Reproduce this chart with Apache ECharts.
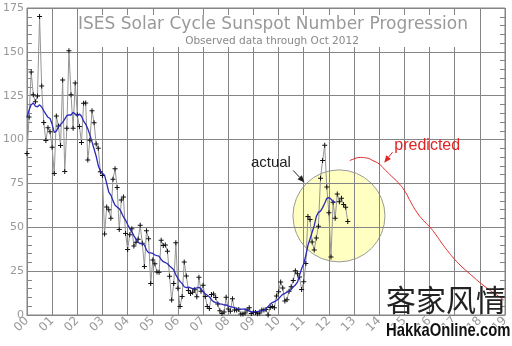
<!DOCTYPE html>
<html><head><meta charset="utf-8">
<script src="https://cdn.jsdelivr.net/npm/echarts@6/dist/echarts.min.js"></script>
<style>html,body{margin:0;padding:0;background:#fff}#c{width:512px;height:346px}</style>
</head><body><div id="c"></div>
<script>
const startYear = 2000;
// Monthly observed sunspot numbers, Jan 2000 .. Oct 2012
const observed = [
  92.0,112.9,138.5,125.5,121.6,124.9,170.1,130.5,109.7,99.4,106.8,104.4,
  95.6,80.6,113.5,107.7,96.6,134.0,81.8,106.4,150.7,125.5,106.5,132.2,
  114.1,107.4,98.4,120.7,120.8,88.3,99.6,116.4,109.6,97.5,95.0,81.6,
  79.5,46.2,61.5,60.0,55.2,77.4,83.3,72.7,48.7,65.5,67.3,46.5,
  37.3,45.8,49.1,39.3,41.5,43.2,51.1,40.9,27.7,48.0,43.5,17.9,
  31.3,29.2,24.5,24.4,42.6,39.6,39.9,36.4,22.1,8.5,18.0,41.2,
  15.3,4.9,10.6,30.2,22.3,13.9,12.2,12.9,14.4,10.4,21.5,13.6,
  16.9,10.6,4.8,3.7,11.7,12.0,10.0,6.2,2.4,0.9,1.7,10.1,
  3.4,2.1,9.3,2.9,2.9,3.1,0.5,0.5,1.1,2.9,4.1,0.8,
  1.5,1.4,0.7,1.2,2.9,2.9,3.2,0.0,4.3,4.8,4.1,10.8,
  13.2,18.8,15.4,8.0,8.7,13.6,16.1,19.6,25.2,23.5,21.6,14.5,
  19.0,29.4,56.2,54.4,41.6,37.0,43.9,50.6,78.0,88.0,96.7,73.0,
  58.3,33.1,64.2,55.2,69.0,64.5,66.5,63.0,61.4,53.3
];
// 13-month smoothed sunspot number, Jan 2000 .. Apr 2012
const smoothed = [
  112.9,116.8,119.9,120.8,119.0,118.7,119.8,118.6,116.4,114.5,112.7,112.0,
  108.7,104.0,104.8,107.5,108.6,109.8,111.7,113.6,114.1,114.0,115.5,114.6,
  113.5,114.6,113.3,110.5,108.8,106.2,102.7,98.7,94.6,90.5,85.2,82.0,
  80.8,79.7,75.0,70.1,68.4,65.2,62.5,61.5,60.6,58.6,55.9,54.1,
  51.6,49.3,47.4,45.1,43.3,41.5,40.7,40.6,39.9,37.0,35.6,35.4,
  35.1,34.2,33.8,33.5,31.6,30.4,29.9,29.2,27.9,26.9,25.7,22.9,
  20.8,19.1,17.9,16.1,15.6,15.9,15.5,15.0,15.1,15.4,15.8,14.9,
  13.2,12.1,11.3,10.4,8.7,7.6,7.1,6.9,6.4,6.2,5.7,5.8,
  5.1,4.8,4.5,4.2,3.7,3.3,3.4,3.4,3.5,2.9,2.2,1.7,
  1.8,1.9,2.0,2.2,2.3,2.7,3.6,4.8,6.2,7.1,7.6,8.3,
  9.3,10.6,11.8,12.3,13.0,13.6,14.5,16.0,17.1,18.7,22.6,26.5,
  29.2,33.9,39.6,43.3,47.2,50.9,56.1,58.5,59.2,61.2,63.7,66.5,
  66.9,66.1,64.6,64.3
];
// Predicted curve
const predictedYears = [2012.83,2013.0,2013.25,2013.5,2013.75,2014.0,2014.25,2014.5,2014.75,2015.0,2015.25,2015.5,2015.75,2016.0,2016.25,2016.5,2016.75,2017.0,2017.25,2017.5,2017.75,2018.0,2018.25,2018.5,2018.75,2018.95];
const predictedValues = [88,89,89.8,89.5,88,86,82.5,79,75.5,71,64.5,58.5,54,50.3,45.8,40.7,36,31.7,28,24.7,21.6,18.5,15.7,13.1,10.6,8.6];
const yearTicks = {min: 2000, max: 2019};
const valueTicks = {min: 0, max: 175, step: 25};

const obsData = observed.map((v, i) => [startYear + i / 12, v]);
const smData = smoothed.map((v, i) => [startYear + i / 12, v]);
const prData = predictedYears.map((x, i) => [x, predictedValues[i]]);

const gridColor = '#858585';
const chart = echarts.init(document.getElementById('c'), null, {renderer: 'canvas'});
const plus = 'path://M2,0H3V2H5V3H3V5H2V3H0V2H2Z';
chart.setOption({
  animation: false,
  grid: {left: 24, right: 7, top: 8, bottom: 31, show: true, borderColor: gridColor, borderWidth: 1, backgroundColor: 'rgba(0,0,0,0)'},
  xAxis: {
    type: 'value', min: yearTicks.min, max: yearTicks.max, interval: 1,
    axisLine: {show: true, lineStyle: {color: gridColor}},
    axisTick: {show: false},
    splitLine: {show: true, lineStyle: {color: gridColor, width: 1}},
    axisLabel: {rotate: 45, margin: 4, color: '#999', fontSize: 12, fontFamily: 'DejaVu Sans',
      showMinLabel: true, showMaxLabel: true,
      formatter: v => String(Math.round(v) % 100).padStart(2, '0')}
  },
  yAxis: [{
    type: 'value', min: valueTicks.min, max: valueTicks.max, interval: valueTicks.step, position: 'left',
    axisLine: {show: false},
    axisTick: {show: true, inside: true, length: 6, lineStyle: {color: gridColor}},
    minorTick: {show: true, splitNumber: 5, length: 5, lineStyle: {color: gridColor}},
    splitLine: {show: true, lineStyle: {color: gridColor, width: 1}},
    axisLabel: {color: '#999', fontSize: 11, fontFamily: 'DejaVu Sans', margin: 3}
  }, {
    type: 'value', min: valueTicks.min, max: valueTicks.max, interval: valueTicks.step, position: 'right',
    axisLine: {show: false},
    axisTick: {show: true, inside: true, length: 6, lineStyle: {color: gridColor}},
    minorTick: {show: true, splitNumber: 5, length: 5, lineStyle: {color: gridColor}},
    splitLine: {show: false},
    axisLabel: {show: false}
  }],
  series: [
    {type: 'line', name: 'observed', data: obsData, symbol: plus, symbolSize: 5, showAllSymbol: true,
      itemStyle: {color: '#111'}, lineStyle: {color: '#959595', width: 1}, z: 4},
    {type: 'line', name: 'smoothed', data: smData, showSymbol: false,
      lineStyle: {color: '#2a2ab8', width: 1.3}, z: 5},
    {type: 'line', name: 'predicted', data: prData, showSymbol: false, smooth: 0.6,
      lineStyle: {color: '#e02424', width: 1}, z: 5}
  ]
});

const px = (x, y) => chart.convertToPixel({gridIndex: 0}, [x, y]);
function arrow(p0, p1, color) {
  const dx = p1[0] - p0[0], dy = p1[1] - p0[1];
  const L = Math.hypot(dx, dy), ux = dx / L, uy = dy / L;
  const h = 7, w = 3;
  const bx = p1[0] - ux * h, by = p1[1] - uy * h;
  return [
    {type: 'line', shape: {x1: p0[0], y1: p0[1], x2: bx, y2: by}, style: {stroke: color, lineWidth: 1}, z: 20},
    {type: 'polygon', shape: {points: [[p1[0], p1[1]], [bx - uy * w, by + ux * w], [bx + uy * w, by - ux * w]]}, style: {fill: color}, z: 20}
  ];
}
const c = px(2012.40, 56.5);
const actualA = px(2010.58, 82.4), actualB = px(2011.03, 75.6);
const predA = px(2014.53, 92.8), predB = px(2014.20, 86.8);
const actualT = px(2010.49, 86.5);
const predT = px(2014.60, 96.5);
chart.setOption({
  graphic: [
    {type: 'circle', shape: {cx: c[0], cy: c[1], r: 46}, style: {fill: 'rgba(255,255,120,0.45)', stroke: '#999', lineWidth: 1}, z: -1},
    {type: 'rect', shape: {x: 78, y: 15, width: 392, height: 32}, style: {fill: '#fff'}, z: 10},
    {type: 'text', x: 273, y: 25, style: {text: 'ISES Solar Cycle Sunspot Number Progression', fill: '#999', font: '17px "DejaVu Sans"', textAlign: 'center', textVerticalAlign: 'middle'}, z: 11},
    {type: 'text', x: 272, y: 41.5, style: {text: 'Observed data through Oct 2012', fill: '#888', font: '10.5px "DejaVu Sans"', textAlign: 'center', textVerticalAlign: 'middle'}, z: 11},
    {type: 'text', x: actualT[0], y: actualT[1], style: {text: 'actual', fill: '#222', font: '15px "Liberation Sans"', textAlign: 'right', textVerticalAlign: 'middle'}, z: 20},
    {type: 'text', x: predT[0], y: predT[1], style: {text: 'predicted', fill: '#e02424', font: '16px "Liberation Sans"', textAlign: 'left', textVerticalAlign: 'middle'}, z: 20},
    ...arrow(actualA, actualB, '#222'),
    ...arrow(predA, predB, '#e02424'),
    {type: 'text', x: 386, y: 300, style: {text: '客家风情', fill: '#222', font: '30px "Noto Sans CJK SC"', textAlign: 'left', textVerticalAlign: 'middle'}, z: 30},
    {type: 'text', x: 386, y: 331, scaleX: 0.78, style: {text: 'HakkaOnline.com', fill: '#111', font: 'bold 19px "Liberation Sans"', textAlign: 'left', textVerticalAlign: 'middle', stroke: '#fff', lineWidth: 2}, z: 30}
  ]
});
</script></body></html>
